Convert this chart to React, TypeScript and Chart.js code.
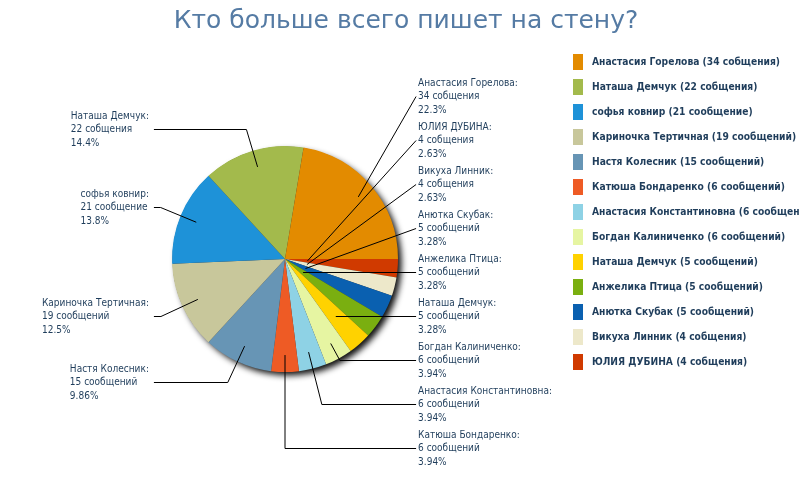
import { useEffect, useRef } from "react";
import { Chart, ArcElement, PieController } from "chart.js";

Chart.register(ArcElement, PieController);

const titleText = "Кто больше всего пишет на стену?";

const names = [
  "Анастасия Горелова",
  "Наташа Демчук",
  "софья ковнир",
  "Кариночка Тертичная",
  "Настя Колесник",
  "Катюша Бондаренко",
  "Анастасия Константиновна",
  "Богдан Калиниченко",
  "Наташа Демчук",
  "Анжелика Птица",
  "Анютка Скубак",
  "Викуха Линник",
  "ЮЛИЯ ДУБИНА",
];

const counts = [34, 22, 21, 19, 15, 6, 6, 6, 5, 5, 5, 4, 4];

const countWords = [
  "собщения",
  "собщения",
  "сообщение",
  "сообщений",
  "сообщений",
  "сообщений",
  "сообщений",
  "сообщений",
  "сообщений",
  "сообщений",
  "сообщений",
  "собщения",
  "собщения",
];

const colors = [
  "#E38B00",
  "#A3BA4C",
  "#1E92D8",
  "#C8C79B",
  "#6795B5",
  "#EE5B25",
  "#8ED2E5",
  "#E6F5A2",
  "#FFD200",
  "#7AAF10",
  "#0A60B0",
  "#EDE8CA",
  "#D03A00",
];

const TEXT_COLOR = "#1f3d5b";
const LABEL_FONT = "10px 'DejaVu Sans Condensed', 'DejaVu Sans', sans-serif";
const LEGEND_FONT = "bold 10.2px 'DejaVu Sans Condensed', 'DejaVu Sans', sans-serif";
const TITLE_FONT = "25px 'DejaVu Sans', sans-serif";

function fmtPct(v: number): string {
  const d = v >= 10 ? 1 : 2;
  const f = Math.pow(10, d);
  return (Math.floor(v * f + 1e-9) / f).toFixed(d);
}

const order = names.map((_, i) => i).reverse();

const shadowPlugin = {
  id: "pieShadow",
  beforeDatasetsDraw(chart: any) {
    const meta = chart.getDatasetMeta(0);
    if (!meta.data.length) return;
    const { x, y, outerRadius } = meta.data[0].getProps(["x", "y", "outerRadius"], true);
    const ctx = chart.ctx;
    ctx.save();
    ctx.shadowColor = "rgba(0,0,0,0.95)";
    ctx.shadowBlur = 6;
    ctx.shadowOffsetX = 4;
    ctx.shadowOffsetY = 4;
    ctx.beginPath();
    ctx.arc(x, y, outerRadius - 0.5, 0, Math.PI * 2);
    ctx.fillStyle = "#333";
    ctx.fill();
    ctx.restore();
  },
};

const labelPlugin = {
  id: "pieLabels",
  afterDatasetsDraw(chart: any) {
    const meta = chart.getDatasetMeta(0);
    const ctx = chart.ctx;
    const total = counts.reduce((a, b) => a + b, 0);
    const spacing = 44;
    const lineH = 13.5;
    const items: any[] = [];
    meta.data.forEach((arc: any, j: number) => {
      const i = order[j];
      const p = arc.getProps(["x", "y", "startAngle", "endAngle", "outerRadius"], true);
      const mid = (p.startAngle + p.endAngle) / 2;
      const right = Math.cos(mid) >= -1e-6;
      const r = p.outerRadius;
      items.push({
        i,
        mid,
        right,
        cx: p.x,
        cy: p.y,
        r,
        y: p.y + 1.2 * r * Math.sin(mid),
      });
    });
    const maxY = chart.height - 52;
    const minY = 40;
    for (const side of [true, false]) {
      const list = items.filter((it) => it.right === side).sort((a, b) => a.y - b.y);
      for (let k = 1; k < list.length; k++) {
        list[k].y = Math.max(list[k].y, list[k - 1].y + spacing);
      }
      if (list.length && list[list.length - 1].y > maxY) {
        list[list.length - 1].y = maxY;
        for (let k = list.length - 2; k >= 0; k--) {
          list[k].y = Math.min(list[k].y, list[k + 1].y - spacing);
        }
      }
      if (list.length && list[0].y < minY) {
        list[0].y = minY;
        for (let k = 1; k < list.length; k++) {
          list[k].y = Math.max(list[k].y, list[k - 1].y + spacing);
        }
      }
    }
    ctx.save();
    ctx.strokeStyle = "#000";
    ctx.lineWidth = 1;
    ctx.font = LABEL_FONT;
    ctx.textBaseline = "middle";
    for (const it of items) {
      const { cx, cy, r, mid, right } = it;
      const ly = Math.round(it.y) + 0.5;
      const endX = right ? cx + 1.16 * r : cx - 1.16 * r;
      const rIn = 0.2 * r;
      const rOut = 0.85 * r;
      const s = Math.sin(mid);
      const c = Math.cos(mid);
      const dy = ly - cy;
      let t = -1;
      if (Math.abs(s) > 1e-6 && Math.sign(s) === Math.sign(dy)) t = dy / s;
      const pts: number[][] = [];
      if (t < rIn) {
        pts.push([cx + rIn * c, cy + rIn * s], [endX, ly]);
      } else if (t <= rOut) {
        pts.push([cx + t * c, ly], [endX, ly]);
      } else {
        const ax = cx + rOut * c;
        const ay = cy + rOut * s;
        const ex = cx + t * c;
        const beyond = right ? ex > endX - 2 : ex < endX + 2;
        if (beyond) pts.push([ax, ay], [endX, ly]);
        else pts.push([ax, ay], [ex, ly], [endX, ly]);
      }
      ctx.beginPath();
      ctx.moveTo(pts[0][0], pts[0][1]);
      for (let k = 1; k < pts.length; k++) ctx.lineTo(pts[k][0], pts[k][1]);
      ctx.stroke();

      const i = it.i;
      const lines = [
        `${names[i]}:`,
        `${counts[i]} ${countWords[i]}`,
        `${fmtPct((counts[i] / total) * 100)}%`,
      ];
      ctx.fillStyle = TEXT_COLOR;
      ctx.textAlign = "left";
      let tx: number;
      if (right) {
        tx = endX + 2;
      } else {
        const w = Math.max(...lines.map((l) => ctx.measureText(l).width));
        tx = endX - 5 - w;
      }
      lines.forEach((l, k) => {
        ctx.fillText(l, tx, ly + (k - 1) * lineH);
      });
    }
    ctx.restore();
  },
};

const legendTitlePlugin = {
  id: "legendTitle",
  afterDraw(chart: any) {
    const ctx = chart.ctx;
    ctx.save();
    ctx.font = TITLE_FONT;
    ctx.fillStyle = "#557ba4";
    ctx.textAlign = "center";
    ctx.textBaseline = "middle";
    ctx.fillText(titleText, chart.width / 2 + 6, 21);

    ctx.font = LEGEND_FONT;
    ctx.textAlign = "left";
    names.forEach((n, i) => {
      const y = 62 + i * 25;
      ctx.fillStyle = colors[i];
      ctx.fillRect(573, y - 8, 10, 16);
      ctx.fillStyle = TEXT_COLOR;
      ctx.fillText(`${n} (${counts[i]} ${countWords[i]})`, 592, y);
    });
    ctx.restore();
  },
};

export default function App() {
  const ref = useRef<HTMLCanvasElement>(null);
  useEffect(() => {
    document.body.style.margin = "0";
    const chart = new Chart(ref.current!, {
      type: "pie",
      data: {
        labels: order.map((i) => names[i]),
        datasets: [
          {
            data: order.map((i) => counts[i]),
            backgroundColor: order.map((i) => colors[i]),
            borderWidth: 0,
          },
        ],
      },
      options: {
        responsive: false,
        animation: false,
        rotation: 90,
        layout: { padding: { left: 172, right: 402, top: 146, bottom: 128 } },
        plugins: { legend: { display: false }, tooltip: { enabled: false } } as any,
        events: [],
      },
      plugins: [shadowPlugin, labelPlugin, legendTitlePlugin],
    });
    return () => chart.destroy();
  }, []);
  return (
    <div style={{ width: 800, height: 500, background: "#fff" }}>
      <canvas ref={ref} width={800} height={500} />
    </div>
  );
}
